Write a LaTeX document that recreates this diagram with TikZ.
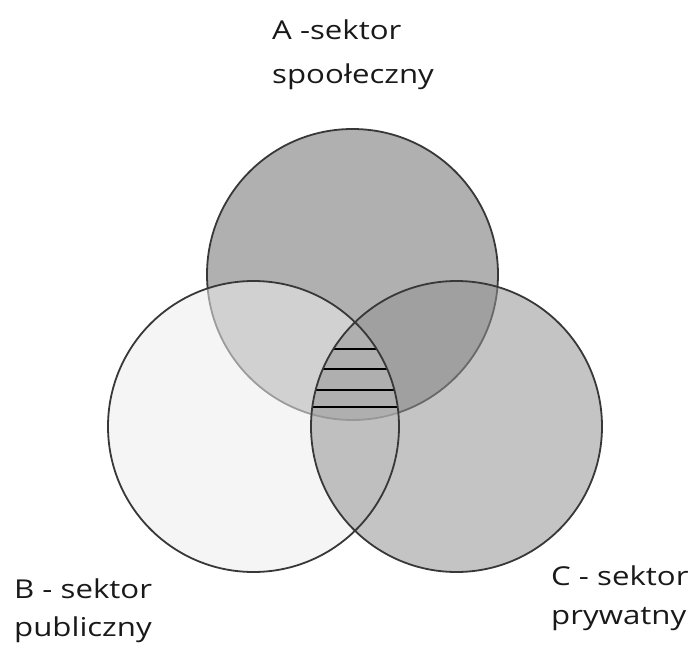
\documentclass[tikz,border=0pt]{standalone}
\usepackage{fontspec}
\setmainfont{Open Sans}
\usepackage{graphicx}
\definecolor{afill}{gray}{0.69}
\definecolor{bfill}{gray}{0.93}
\definecolor{cfill}{gray}{0.575}
\definecolor{edge}{gray}{0.22}
\definecolor{txt}{gray}{0.1}
\tikzset{
  lbl/.style={anchor=base west, inner sep=0pt, text=txt, font=\fontsize{26}{31}\selectfont},
  outl/.style={draw=edge, line width=1.8pt},
  hatch/.style={draw=black, line width=1.6pt}
}
\newcommand{\wlbl}[1]{\scalebox{1.2}[1]{#1}}
\begin{document}
\begin{tikzpicture}[x=1pt,y=-1pt]
\useasboundingbox (0,0) rectangle (699,650);
\coordinate (ca) at (352.5,274.5);
\coordinate (cb) at (253.5,426.5);
\coordinate (cc) at (456.5,426.5);
% A
\fill[afill] (ca) circle[radius=145.5];
\draw[outl] (ca) circle[radius=145.5];
% B and C translucent
\fill[bfill, fill opacity=0.557] (cb) circle[radius=145.5];
\fill[cfill, fill opacity=0.545] (cc) circle[radius=145.5];
% hatch in triple intersection
\begin{scope}
  \clip (ca) circle[radius=145.5];
  \clip (cb) circle[radius=145.5];
  \clip (cc) circle[radius=145.5];
  \foreach \yy in {349,369,390,407} {
    \draw[hatch] (290,\yy) -- (420,\yy);
  }
\end{scope}
\draw[outl] (cb) circle[radius=145.5];
\draw[outl] (cc) circle[radius=145.5];
% labels
\node[lbl] (a1) at (272,39.3) {\wlbl{A -sektor}};
\node[lbl] (a2) at (272,83.3) {\wlbl{spoołeczny}};
\node[lbl] (b1) at (14,598) {\wlbl{B - sektor}};
\node[lbl] (b2) at (14,636) {\wlbl{publiczny}};
\node[lbl] (c1) at (551,585) {\wlbl{C - sektor}};
\node[lbl] (c2) at (551,624) {\wlbl{prywatny}};
\end{tikzpicture}
\end{document}
